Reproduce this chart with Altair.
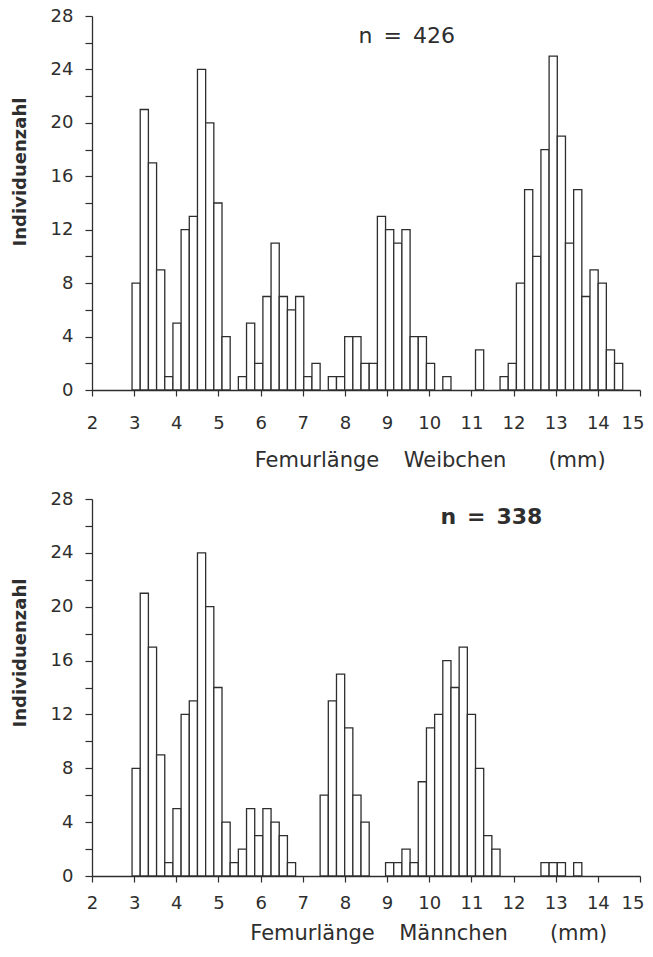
import altair as alt
import pandas as pd

# ---- class definition (as drawn in the figure) ----
BIN_START = 2.95   # mm, left edge of the first length class
BIN_WIDTH = 0.194  # mm, width of one length class

# ---- counts per length class (Individuenzahl) ----
weibchen = [8, 21, 17, 9, 1, 5, 12, 13, 24, 20, 14, 4,
            0, 1, 5, 2, 7, 11, 7, 6, 7, 1, 2,
            0, 1, 1, 4, 4, 2, 2,
            13, 12, 11, 12, 4, 4, 2,
            0, 1, 0, 0, 0, 3, 0, 0, 1, 2,
            8, 15, 10, 18, 25, 19, 11, 15, 7, 9, 8, 3, 2]
maennchen = [8, 21, 17, 9, 1, 5, 12, 13, 24, 20, 14, 4,
             1, 2, 5, 3, 5, 4, 3, 1,
             0, 0, 0,
             6, 13, 15, 11, 6, 4,
             0, 0,
             1, 1, 2, 1,
             7, 11, 12, 16, 14, 17, 12, 8, 3, 2,
             0, 0, 0, 0, 0,
             1, 1, 1, 0, 1]

x_ticks = list(range(2, 16))
y_ticks = list(range(0, 29, 2))

n_labels = ["n\u2002=\u2002426", "n\u2002=\u2002338"]
x_titles = ["Femurlänge\u2003\u2006Weibchen\u2003\u2003(mm)",
            "Femurlänge\u2003\u2006Männchen\u2003\u2003(mm)"]
y_title = "Individuenzahl"

INK = "#2e2e2e"
FONT = "DejaVu Sans"
W = 548

# keep the last tick label inside the page
LAST_ALIGN = {"condition": {"test": "datum.value == 15", "value": "right"},
              "value": "center"}
LAST_OFFSET = {"condition": {"test": "datum.value == 15", "value": 4},
               "value": 0}


def frame(counts):
    rows = []
    for i, c in enumerate(counts):
        if c > 0:
            lo = BIN_START + i * BIN_WIDTH
            rows.append({"lo": lo, "hi": lo + BIN_WIDTH, "count": c})
    return pd.DataFrame(rows)


def panel(counts, height, n_label, x_title, title_x, title_y, lab_pad,
          ytitle_y, n_pos, n_weight):
    df = frame(counts)
    bars = alt.Chart(df).mark_rect(
        fill="white", stroke=INK, strokeWidth=1.3
    ).encode(
        x=alt.X("lo:Q",
                scale=alt.Scale(domain=[2, 15], nice=False, zero=False),
                axis=alt.Axis(values=x_ticks, format="d", title=x_title,
                              labelFlush=False, labelOverlap=False,
                              labelAlign=LAST_ALIGN, labelOffset=LAST_OFFSET,
                              tickSize=6, labelPadding=lab_pad, labelFontSize=18,
                              titleFontSize=21, titleFontWeight="normal",
                              titleX=title_x, titleY=title_y,
                              titleBaseline="alphabetic")),
        x2="hi:Q",
        y=alt.Y("count:Q",
                scale=alt.Scale(domain=[0, 28], nice=False),
                axis=alt.Axis(values=y_ticks, title=y_title,
                              labelExpr="datum.value % 4 == 0 ? datum.label : ''",
                              tickSize=7, labelPadding=12, labelFontSize=18,
                              titleFontSize=18, titleFontWeight="bold",
                              titleAngle=270, titleX=-67, titleY=ytitle_y,
                              titleBaseline="alphabetic")),
        y2=alt.datum(0),
    )
    txt = alt.Chart(pd.DataFrame({"t": [n_label]})).mark_text(
        fontSize=22, font=FONT, color=INK, align="center",
        baseline="alphabetic", fontWeight=n_weight
    ).encode(
        text="t:N",
        x=alt.value(n_pos[0]),
        y=alt.value(n_pos[1]),
    )
    return alt.layer(bars, txt).properties(width=W, height=height)


top = panel(weibchen, 374, n_labels[0], x_titles[0], 337.7, 76, 18, 155.5,
            (314.7, 27), "normal")
bottom = panel(maennchen, 377, n_labels[1], x_titles[1], 336.2, 63, 12, 153.5,
               (399.4, 25), "bold")

chart = alt.vconcat(top, bottom, spacing=109, bounds="flush").properties(
    padding={"left": 3, "top": -1, "right": 0, "bottom": 8.5},
    background="white",
).configure_view(
    stroke=None
).configure_axis(
    grid=False, domainColor=INK, tickColor=INK, domainWidth=1.3, tickWidth=1.2,
    labelColor=INK, titleColor=INK, labelFont=FONT, titleFont=FONT,
).configure_text(font=FONT)

chart.save("out.html", embed_options={"renderer": "svg", "actions": False})
